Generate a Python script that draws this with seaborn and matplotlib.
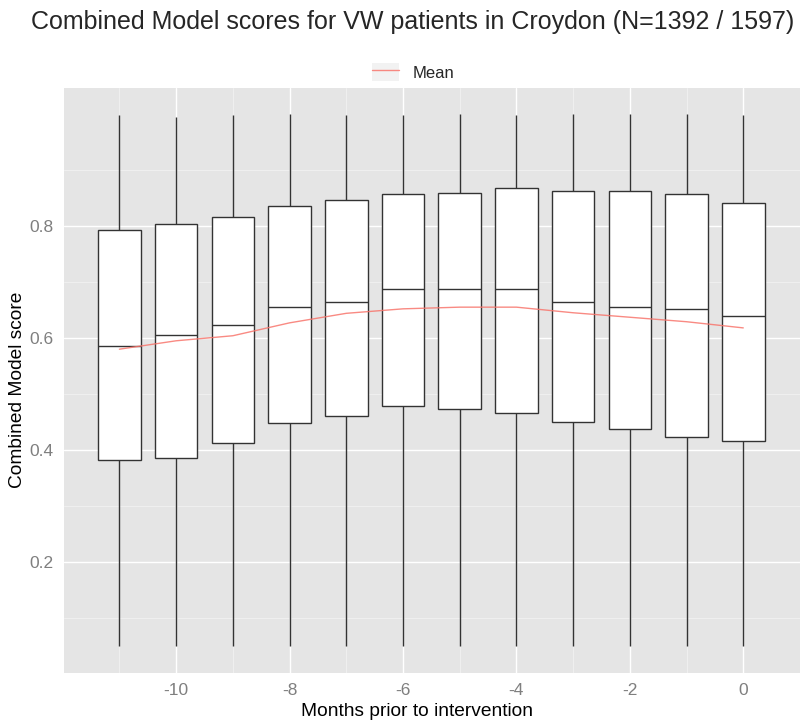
import numpy as np
import pandas as pd
import seaborn as sns
import matplotlib.pyplot as plt
from matplotlib.lines import Line2D
from matplotlib.patches import Patch
from matplotlib.legend_handler import HandlerTuple

# Months before the intervention
months = [-11, -10, -9, -8, -7, -6, -5, -4, -3, -2, -1, 0]

# Five-number summaries of the combined model score per month
whisker_low = [0.050, 0.050, 0.050, 0.050, 0.050, 0.050, 0.050, 0.050, 0.050, 0.050, 0.050, 0.050]
quartile_1 = [0.382, 0.385, 0.412, 0.448, 0.461, 0.479, 0.473, 0.467, 0.450, 0.438, 0.424, 0.416]
median = [0.586, 0.606, 0.624, 0.655, 0.665, 0.687, 0.687, 0.687, 0.665, 0.655, 0.651, 0.640]
quartile_3 = [0.792, 0.804, 0.816, 0.836, 0.847, 0.857, 0.858, 0.868, 0.863, 0.863, 0.857, 0.841]
whisker_high = [0.997, 0.994, 0.997, 0.999, 0.997, 0.997, 0.999, 0.997, 0.999, 0.999, 0.999, 0.997]

# Monthly mean score
mean_score = [0.580, 0.595, 0.604, 0.627, 0.644, 0.652, 0.655, 0.655, 0.645, 0.637, 0.629, 0.618]

rows = []
for m, lo, q1, md, q3, hi in zip(months, whisker_low, quartile_1, median, quartile_3, whisker_high):
    for v in (lo, q1, md, q3, hi):
        rows.append({"month": m, "score": v})
box_df = pd.DataFrame(rows)
mean_df = pd.DataFrame({"month": months, "score": mean_score})

sns.set_theme(style="darkgrid")
plt.rcParams["font.family"] = ["Liberation Sans", "DejaVu Sans"]

fig = plt.figure(figsize=(8, 7.25), dpi=100)
ax = fig.add_axes([64 / 800, 1 - 673 / 725, 736 / 800, (673 - 88) / 725])
ax.set_facecolor("#E5E5E5")

edge = "#333333"
sns.boxplot(data=box_df, x="month", y="score", native_scale=True, width=0.75,
            whis=np.inf, color="white", linecolor=edge, linewidth=1.0,
            showfliers=False, ax=ax,
            boxprops=dict(facecolor="white", edgecolor=edge, zorder=3),
            medianprops=dict(color=edge, linewidth=1.0, zorder=4),
            whiskerprops=dict(color=edge, linewidth=1.0, zorder=3),
            capprops=dict(visible=False))

line_color = "#F8766D"
sns.lineplot(data=mean_df, x="month", y="score", color=line_color, linewidth=1.0,
             alpha=0.85, ax=ax, zorder=5)

ax.set_xlim(-11.977, 0.873)
ax.set_ylim(0.0023, 1.046)
ax.set_xticks([-10, -8, -6, -4, -2, 0])
ax.set_xticks([-11, -9, -7, -5, -3, -1, 1], minor=True)
ax.set_yticks([0.2, 0.4, 0.6, 0.8])
ax.set_yticks([0.1, 0.3, 0.5, 0.7, 0.9], minor=True)
ax.set_xticklabels(["-10", "-8", "-6", "-4", "-2", "0"])
ax.set_yticklabels(["0.2", "0.4", "0.6", "0.8"])
ax.grid(which="major", color="white", linewidth=1.0)
ax.grid(which="minor", color="#F2F2F2", linewidth=0.6)
ax.tick_params(axis="both", which="major", colors="#7F7F7F", labelsize=12.5,
               length=5, width=0.8, labelcolor="#7F7F7F", pad=2.5)
ax.tick_params(axis="both", which="minor", length=0)
for s in ax.spines.values():
    s.set_visible(False)

ax.set_xlabel("Months prior to intervention", fontsize=13.8, color="black")
ax.xaxis.set_label_coords((417 - 64) / 736, -(711 - 673) / 585, transform=ax.transAxes)
ax.xaxis.label.set_va("center")
ax.set_ylabel("Combined Model score", fontsize=13.8, color="black")
ax.yaxis.set_label_coords(-(64 - 18) / 736, (673 - 390) / 585, transform=ax.transAxes)
ax.yaxis.label.set_va("center")

fig.suptitle("Combined Model scores for VW patients in Croydon (N=1392 / 1597)",
             x=413 / 800, y=1 - 22 / 725, va="center", fontsize=18)

key = (Patch(facecolor="#F2F2F2", edgecolor="none"),
       Line2D([], [], color=line_color, linewidth=1.0, alpha=0.85))
fig.legend(handles=[key], labels=["Mean"], loc="center",
           bbox_to_anchor=(413 / 800, 1 - 72 / 725), frameon=True,
           facecolor="white", edgecolor="white", fontsize=12,
           handlelength=1.6, handleheight=1.3, borderpad=0.3,
           handler_map={tuple: HandlerTuple(ndivide=1)})

fig.savefig("out.png", dpi=100)
